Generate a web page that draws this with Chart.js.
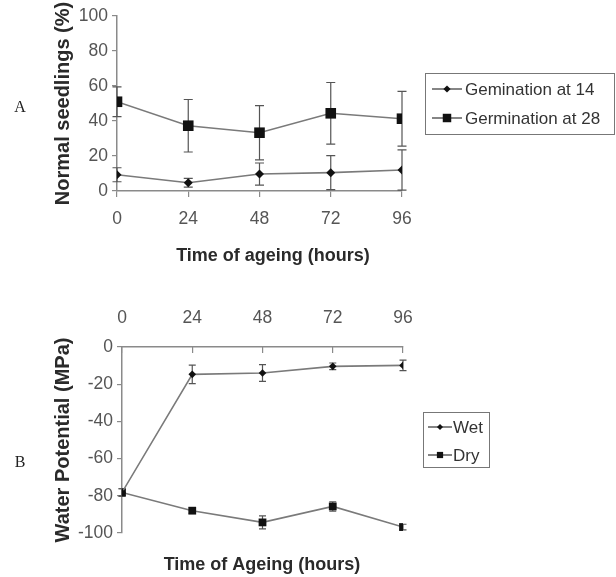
<!DOCTYPE html>
<html lang="en">
<head>
    <meta charset="UTF-8">
    <title>Ageing charts</title>
    <script src="https://cdn.jsdelivr.net/npm/chart.js@4.4.0/dist/chart.umd.min.js"></script>
    <style>
        body { margin: 0; background: #fff; }
        #wrap { position: relative; width: 616px; height: 577px; }
        #chartA { position: absolute; left: 0; top: 0; }
        #chartB { position: absolute; left: 0; top: 288px; }
    </style>
</head>
<body>
    <div id="wrap">
        <canvas id="chartA" width="616" height="288"></canvas>
        <canvas id="chartB" width="616" height="289"></canvas>
    </div>
<script>
    // ---- data ----
    const hours = [0, 24, 48, 72, 96];

    // panel A : normal seedlings (%)
    const germ14 = [9.3, 4.7, 9.7, 10.5, 12];
    const germ14Err = [4, 2.5, 6.3, 9.7, 11.5];
    const germ28 = [51, 37.3, 33.3, 44.4, 41.3];
    const germ28Err = [8.5, 15, 15.5, 17.6, 15.6];

    // panel B : water potential (MPa)
    const wet = [-78.2, -14.7, -14, -10.4, -9.9];
    const wetErr = [2, 5, 4.5, 1.8, 2.8];
    const dry = [-78.2, -88, -94.3, -85.7, -96.8];
    const dryErr = [2, 1.5, 3.5, 2.5, 1.5];

    const SANS = "'Liberation Sans', Arial, sans-serif";
    const AXIS = '#8a8a8a';
    const LINE = '#7a7a7a';

    const pts = (vals) => vals.map((v, i) => ({ x: hours[i], y: v }));

    // error bars drawn through the chart scales
    const errorBars = {
        id: 'errorBars',
        beforeDatasetsDraw(chart, args, opts) {
            const { ctx, scales: { x, y } } = chart;
            ctx.save();
            ctx.strokeStyle = opts.color || '#555';
            ctx.lineWidth = 1.2;
            chart.data.datasets.forEach(ds => {
                if (!ds.errors) return;
                ds.data.forEach((p, j) => {
                    const e = ds.errors[j];
                    const px = x.getPixelForValue(p.x);
                    const t = y.getPixelForValue(p.y + e);
                    const b = y.getPixelForValue(p.y - e);
                    const c = opts.cap || 4;
                    ctx.beginPath();
                    ctx.moveTo(px, t); ctx.lineTo(px, b);
                    ctx.moveTo(px - c, t); ctx.lineTo(px + c, t);
                    ctx.moveTo(px - c, b); ctx.lineTo(px + c, b);
                    ctx.stroke();
                });
            });
            ctx.restore();
        }
    };

    // boxed legend, plus panel letter and bottom axis title
    const extras = {
        id: 'extras',
        afterDraw(chart, args, o) {
            const ctx = chart.ctx;
            ctx.save();
            // legend box
            const L = o.legend;
            ctx.strokeStyle = '#777';
            ctx.lineWidth = 1;
            ctx.strokeRect(L.x + 0.5, L.y + 0.5, L.w, L.h);
            chart.data.datasets.forEach((ds, i) => {
                const cy = L.y + L.rows[i];
                ctx.strokeStyle = '#333';
                ctx.lineWidth = 1.2;
                ctx.beginPath();
                ctx.moveTo(L.x + L.lineX0, cy);
                ctx.lineTo(L.x + L.lineX1, cy);
                ctx.stroke();
                ctx.fillStyle = '#111';
                Chart.helpers.drawPoint(ctx, {
                    pointStyle: ds.pointStyle,
                    radius: ds.pointRadius * 0.8,
                    rotation: 0,
                    borderWidth: 0
                }, L.x + (L.lineX0 + L.lineX1) / 2, cy);
                ctx.fillStyle = '#333';
                ctx.font = L.font;
                ctx.textBaseline = 'middle';
                ctx.textAlign = 'left';
                ctx.fillText(ds.label, L.x + L.textX, cy + 1);
            });
            // panel letter
            ctx.fillStyle = '#222';
            ctx.font = "16px 'Liberation Serif', serif";
            ctx.textAlign = 'center';
            ctx.textBaseline = 'middle';
            ctx.fillText(o.letter.text, o.letter.x, o.letter.y);
            // x-axis title below the plot
            ctx.fillStyle = '#2a2a2a';
            ctx.font = "bold 18px " + SANS;
            ctx.fillText(o.xTitle.text, o.xTitle.x, o.xTitle.y);
            ctx.restore();
        }
    };

    function baseScales(xPos, yMin, yMax, yTitle, yWidth, xTick) {
        return {
            x: {
                type: 'linear', position: xPos, min: 0, max: 96,
                ticks: { stepSize: 24, color: '#555', padding: xTick.pad, font: { family: SANS, size: 17.5 } },
                grid: { drawOnChartArea: false, tickLength: xTick.len, color: AXIS, lineWidth: 1.2 },
                border: { color: AXIS, width: 1.5 },
                afterFit: s => { s.height = 40; }
            },
            y: {
                min: yMin, max: yMax,
                ticks: { stepSize: 20, color: '#555', padding: 4, font: { family: SANS, size: 17.5 } },
                grid: { drawOnChartArea: false, tickLength: 5, color: AXIS, lineWidth: 1.2 },
                border: { color: AXIS, width: 1.5 },
                title: { display: true, text: yTitle, color: '#2a2a2a', padding: 11, font: { family: SANS, size: 20, weight: 'bold' } },
                afterFit: s => { s.width = yWidth; }
            }
        };
    }

    function series(label, vals, errs, style, r) {
        return {
            label: label, data: pts(vals), errors: errs,
            borderColor: LINE, borderWidth: 1.6, tension: 0,
            pointStyle: style, pointRadius: r,
            pointBackgroundColor: '#111', pointBorderColor: '#111', pointBorderWidth: 0
        };
    }

    new Chart(document.getElementById('chartA'), {
        type: 'line',
        data: {
            datasets: [
                series('Gemination at 14', germ14, germ14Err, 'rectRot', 4.5),
                series('Germination at 28', germ28, germ28Err, 'rect', 7.5)
            ]
        },
        options: {
            responsive: false, animation: false,
            layout: { padding: { left: 40, right: 214, top: 16, bottom: 57 } },
            scales: baseScales('bottom', 0, 100, 'Normal seedlings (%)', 77, { len: 6, pad: 11.5 }),
            plugins: {
                legend: { display: false }, tooltip: { enabled: false },
                errorBars: { color: '#555', cap: 4.5 },
                extras: {
                    legend: { x: 425, y: 73, w: 189, h: 61, rows: [16, 45], lineX0: 7, lineX1: 37, textX: 40, font: "17px " + SANS },
                    letter: { text: 'A', x: 20, y: 108 },
                    xTitle: { text: 'Time of ageing (hours)', x: 273, y: 256 }
                }
            }
        },
        plugins: [errorBars, extras]
    });

    new Chart(document.getElementById('chartB'), {
        type: 'line',
        data: {
            datasets: [
                series('Wet', wet, wetErr, 'rectRot', 3.8),
                series('Dry', dry, dryErr, 'rect', 5.5)
            ]
        },
        options: {
            responsive: false, animation: false,
            layout: { padding: { left: 40, right: 213, top: 19, bottom: 44 } },
            scales: baseScales('top', -100, 0, 'Water Potential (MPa)', 82, { len: -6, pad: 24.5 }),
            plugins: {
                legend: { display: false }, tooltip: { enabled: false },
                errorBars: { color: '#555', cap: 3.5 },
                extras: {
                    legend: { x: 423, y: 124, w: 66, h: 55, rows: [15, 43], lineX0: 5, lineX1: 29, textX: 30, font: "17px " + SANS },
                    letter: { text: 'B', x: 20, y: 175 },
                    xTitle: { text: 'Time of Ageing (hours)', x: 262, y: 277 }
                }
            }
        },
        plugins: [errorBars, extras]
    });
</script>
</body>
</html>
